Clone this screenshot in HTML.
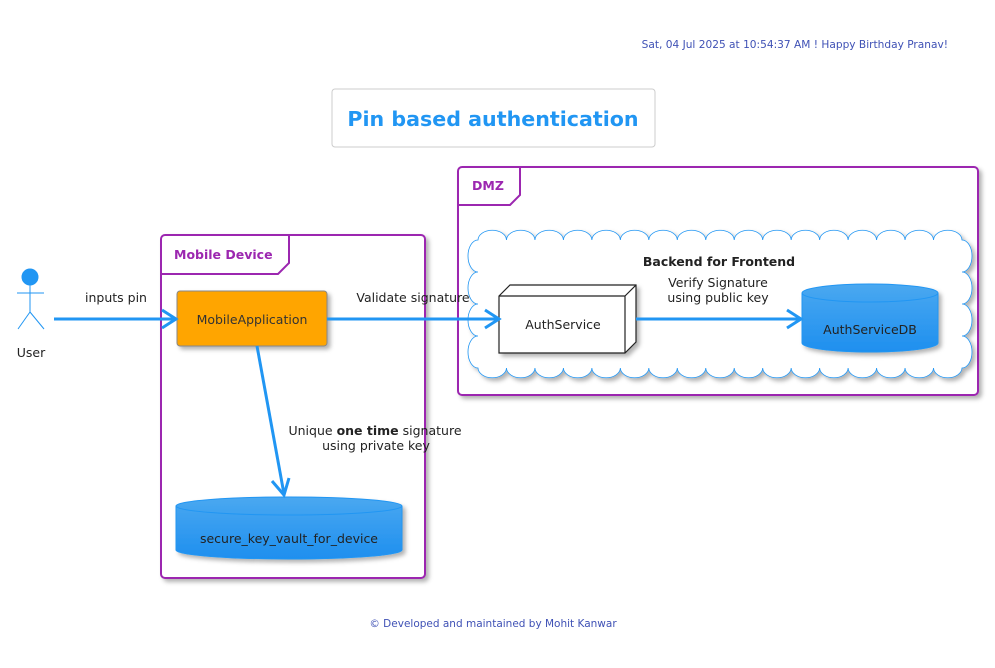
<!DOCTYPE html>
<html><head><meta charset="utf-8"><style>
body{margin:0;background:#fff;}
svg{display:block;font-family:"DejaVu Sans","Liberation Sans",sans-serif;}
</style></head><body>
<svg width="995" height="668" viewBox="0 0 995 668" xmlns="http://www.w3.org/2000/svg">
<defs>
<linearGradient id="bl" x1="0" y1="0" x2="0" y2="1"><stop offset="0" stop-color="#4aa8f0"/><stop offset="1" stop-color="#1e8fef"/></linearGradient>
<filter id="sh" x="-10%" y="-10%" width="130%" height="130%"><feDropShadow dx="3" dy="3" stdDeviation="2" flood-color="#000" flood-opacity="0.3"/></filter>
</defs>
<text x="948" y="48" font-size="10.6" fill="#3f51b5" text-anchor="end">Sat, 04 Jul 2025 at 10:54:37 AM ! Happy Birthday Pranav!</text>
<rect x="332" y="89" width="323" height="58" rx="3" fill="#fff" stroke="#ccc"/>
<text x="493" y="126" font-size="20.6" font-weight="bold" fill="#2196f3" text-anchor="middle">Pin based authentication</text>

<rect x="458" y="167" width="520" height="228" rx="4" fill="#fff" stroke="#9c27b0" stroke-width="2" filter="url(#sh)"/>
<path d="M458,205 H510 L520,195 V167" fill="none" stroke="#9c27b0" stroke-width="2"/>
<text x="472" y="190" font-size="12.5" font-weight="bold" fill="#9c27b0">DMZ</text>

<path filter="url(#sh)" fill="#fff" stroke="#2196f3" stroke-width="0.8" d="M478,240
a14.24,10 0 0 1 28.47,0 a14.24,10 0 0 1 28.47,0 a14.24,10 0 0 1 28.47,0 a14.24,10 0 0 1 28.47,0 a14.24,10 0 0 1 28.47,0 a14.24,10 0 0 1 28.47,0 a14.24,10 0 0 1 28.47,0 a14.24,10 0 0 1 28.47,0 a14.24,10 0 0 1 28.47,0 a14.24,10 0 0 1 28.47,0 a14.24,10 0 0 1 28.47,0 a14.24,10 0 0 1 28.47,0 a14.24,10 0 0 1 28.47,0 a14.24,10 0 0 1 28.47,0 a14.24,10 0 0 1 28.47,0 a14.24,10 0 0 1 28.47,0 a14.24,10 0 0 1 28.47,0
a10,16 0 0 1 0,32 a10,16 0 0 1 0,32 a10,16 0 0 1 0,32 a10,16 0 0 1 0,32
a14.24,10 0 0 1 -28.47,0 a14.24,10 0 0 1 -28.47,0 a14.24,10 0 0 1 -28.47,0 a14.24,10 0 0 1 -28.47,0 a14.24,10 0 0 1 -28.47,0 a14.24,10 0 0 1 -28.47,0 a14.24,10 0 0 1 -28.47,0 a14.24,10 0 0 1 -28.47,0 a14.24,10 0 0 1 -28.47,0 a14.24,10 0 0 1 -28.47,0 a14.24,10 0 0 1 -28.47,0 a14.24,10 0 0 1 -28.47,0 a14.24,10 0 0 1 -28.47,0 a14.24,10 0 0 1 -28.47,0 a14.24,10 0 0 1 -28.47,0 a14.24,10 0 0 1 -28.47,0 a14.24,10 0 0 1 -28.47,0
a10,16 0 0 1 0,-32 a10,16 0 0 1 0,-32 a10,16 0 0 1 0,-32 a10,16 0 0 1 0,-32 Z"/>
<text x="719" y="266" font-size="12.5" font-weight="bold" fill="#222" text-anchor="middle">Backend for Frontend</text>

<g filter="url(#sh)">
<path d="M499,296 L510,285 H636 V342 L625,353 H499 Z" fill="#fff" stroke="#222" stroke-width="1.2"/>
</g>
<path d="M499,296 H625 V353 M625,296 L636,285" fill="none" stroke="#222" stroke-width="1.2"/>
<text x="563" y="329" font-size="12.5" fill="#222" text-anchor="middle">AuthService</text>

<g filter="url(#sh)">
<path d="M802,293 V343 A68,9 0 0 0 938,343 V293 A68,9 0 0 0 802,293 Z" fill="url(#bl)" stroke="#2196f3"/>
</g>
<path d="M802,293 A68,9 0 0 0 938,293" fill="none" stroke="#2196f3"/>
<text x="870" y="334" font-size="12.5" fill="#222" text-anchor="middle">AuthServiceDB</text>

<rect x="161" y="235" width="264" height="343" rx="4" fill="#fff" stroke="#9c27b0" stroke-width="2" filter="url(#sh)"/>
<path d="M161,274 H278 L289,263 V235" fill="none" stroke="#9c27b0" stroke-width="2"/>
<text x="174" y="259" font-size="12.5" font-weight="bold" fill="#9c27b0">Mobile Device</text>

<rect x="177" y="291" width="150" height="55" rx="3" fill="#ffa500" stroke="#888" filter="url(#sh)"/>
<text x="252" y="324" font-size="12.5" fill="#333" text-anchor="middle">MobileApplication</text>

<g filter="url(#sh)">
<path d="M176,506 V550 A113,9 0 0 0 402,550 V506 A113,9 0 0 0 176,506 Z" fill="url(#bl)" stroke="#2196f3"/>
</g>
<path d="M176,506 A113,9 0 0 0 402,506" fill="none" stroke="#2196f3"/>
<text x="289" y="543" font-size="12.5" fill="#222" text-anchor="middle">secure_key_vault_for_device</text>

<g stroke="#2196f3" stroke-width="1" fill="none">
<circle cx="30" cy="277" r="8" fill="#2196f3"/>
<line x1="30" y1="285" x2="30" y2="312"/>
<line x1="17" y1="293" x2="44" y2="293"/>
<line x1="30" y1="312" x2="18" y2="329"/>
<line x1="30" y1="312" x2="44" y2="329"/>
</g>
<text x="31" y="357" font-size="12.5" fill="#222" text-anchor="middle">User</text>

<g stroke="#2196f3" stroke-width="3" fill="none">
<line x1="54" y1="319" x2="175" y2="319"/>
<path d="M162,310 L176,319 L162,328"/>
<line x1="327" y1="319" x2="498" y2="319"/>
<path d="M485,310 L499,319 L485,328"/>
<line x1="636" y1="319" x2="800" y2="319"/>
<path d="M787,310 L801,319 L787,328"/>
<line x1="257" y1="346" x2="284" y2="494"/>
<path d="M272,481 L284,495 L289,478"/>
</g>
<text x="116" y="302" font-size="12.5" fill="#222" text-anchor="middle">inputs pin</text>
<text x="413" y="302" font-size="12.5" fill="#222" text-anchor="middle">Validate signature</text>
<text x="718" y="287" font-size="12.5" fill="#222" text-anchor="middle">Verify Signature</text>
<text x="718" y="302" font-size="12.5" fill="#222" text-anchor="middle">using public key</text>
<text x="375" y="435" font-size="12.5" fill="#222" text-anchor="middle">Unique <tspan font-weight="bold">one time</tspan> signature</text>
<text x="376" y="450" font-size="12.5" fill="#222" text-anchor="middle">using private key</text>

<text x="493" y="627" font-size="10.5" fill="#3f51b5" text-anchor="middle">© Developed and maintained by Mohit Kanwar</text>
</svg>
</body></html>
